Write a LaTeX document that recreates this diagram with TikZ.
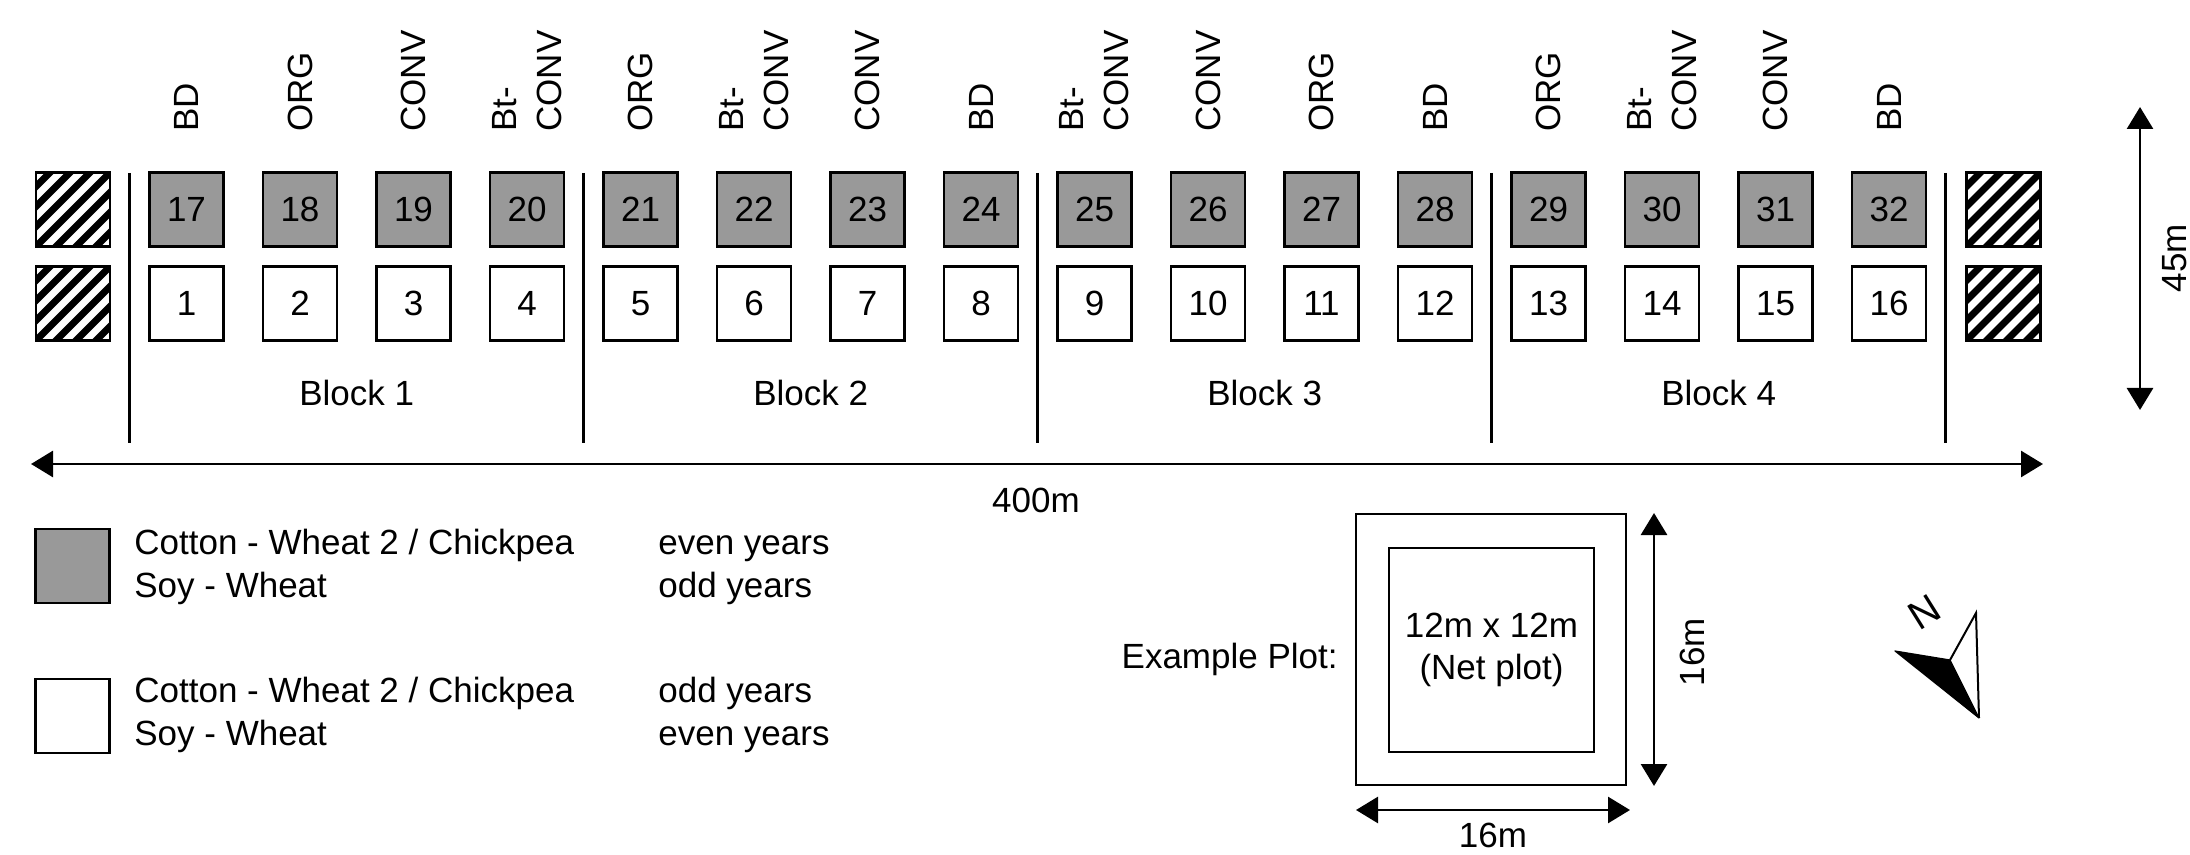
\documentclass[tikz,border=0pt]{standalone}
\usepackage{fontspec}
\setmainfont{Liberation Sans}
\usetikzlibrary{arrows.meta}
\definecolor{plotgray}{RGB}{153,153,153}
\begin{document}
\begin{tikzpicture}[x=0.5pt,y=-0.5pt,
  font=\fontsize{17.5}{21}\selectfont,
  plot/.style={draw, line width=1.3pt, minimum width=37pt, minimum height=37pt, inner sep=0pt},
  evenplot/.style={plot, fill=plotgray},
  oddplot/.style={plot, fill=white},
  hatchbox/.style={plot, fill=white, path picture={
    \foreach \k in {-5,...,5}{
      \draw[line width=3.5pt] ([xshift=\k*10pt]path picture bounding box.center) +(-30pt,-30pt) -- +(30pt,30pt);
    }}},
  sepline/.style={line width=1.3pt},
  dimline/.style={line width=1.4pt, {Triangle[length=11pt,width=13pt]}-{Triangle[length=11pt,width=13pt]}},
  trt/.style={rotate=90, anchor=west, inner sep=0pt, align=left, font=\fontsize{17.5}{22.5}\selectfont},
  txt/.style={anchor=base west, inner sep=0pt}
]
\useasboundingbox (0,0) rectangle (2190,855);

% plots and treatment labels
\foreach \lab [count=\i from 0] in {BD,ORG,CONV,{Bt-\\CONV},ORG,{Bt-\\CONV},CONV,BD,{Bt-\\CONV},CONV,ORG,BD,ORG,{Bt-\\CONV},CONV,BD}{
  \pgfmathsetmacro\xx{186.5+113.5*\i}
  \pgfmathtruncatemacro\tn{17+\i}
  \pgfmathtruncatemacro\bn{1+\i}
  \node[evenplot] (p\tn) at (\xx,209.5) {\tn};
  \node[oddplot] (p\bn) at (\xx,303.5) {\bn};
  \node[trt] (t\tn) at (\xx,132) {\lab};
}

% border (hatched) plots
\node[hatchbox] (hL1) at (73,209.5) {};
\node[hatchbox] (hL2) at (73,303.5) {};
\node[hatchbox] (hR1) at (2003.5,209.5) {};
\node[hatchbox] (hR2) at (2003.5,303.5) {};

% block separators and labels
\foreach \k in {0,...,4}{
  \draw[sepline] ({129.75+454*\k},173) -- ({129.75+454*\k},443);
}
\foreach \k in {1,...,4}{
  \node (blk\k) at ({356.75+454*(\k-1)},393) {Block \k};
}

% 400m dimension
\coordinate (w1) at (31,464);
\coordinate (w2) at (2043,464);
\draw[dimline] (w1) -- (w2);
\node (w400) at (1036,500) {400m};

% 45m dimension
\coordinate (v1) at (2140,107);
\coordinate (v2) at (2140,410);
\draw[dimline] (v1) -- (v2);
\node[rotate=90, inner sep=0pt] (v45) at (2175,258) {45m};

% legend
\node[evenplot] (leg1) at (72.5,566) {};
\node[oddplot] (leg2) at (72.5,716) {};
\node[txt] (l1a) at (134,554) {Cotton - Wheat 2 / Chickpea};
\node[txt] (l1b) at (134,597) {Soy - Wheat};
\node[txt] (l1c) at (658,554) {even years};
\node[txt] (l1d) at (658,597) {odd years};
\node[txt] (l2a) at (134,702) {Cotton - Wheat 2 / Chickpea};
\node[txt] (l2b) at (134,745) {Soy - Wheat};
\node[txt] (l2c) at (658,702) {odd years};
\node[txt] (l2d) at (658,745) {even years};

% example plot
\node[draw, line width=1.3pt, minimum width=135pt, minimum height=135.5pt] (outer) at (1491,649.5) {};
\node[draw, line width=1.3pt, minimum width=102.5pt, minimum height=102pt, align=center] (inner) at (1491.5,650) {12m x 12m\\(Net plot)};
\node[anchor=base east, inner sep=0pt] (ex) at (1338,668) {Example Plot:};
\coordinate (e1) at (1654,513);
\coordinate (e2) at (1654,786);
\draw[dimline] (e1) -- (e2);
\node[rotate=90] (e16) at (1692,652) {16m};
\coordinate (f1) at (1356,810);
\coordinate (f2) at (1630,810);
\draw[dimline] (f1) -- (f2);
\node[anchor=base, inner sep=0pt] (f16) at (1493,847) {16m};

% north arrow
\coordinate (nL) at (1895,651);
\coordinate (nJ) at (1950,660);
\coordinate (nB) at (1979,718);
\coordinate (nT) at (1976,613);
\filldraw[line width=0.6pt, line join=round] (nL) -- (nJ) -- (nB) -- cycle;
\draw[line width=1pt, line join=miter] (nJ) -- (nT) -- (nB);
\node[rotate=32, font=\fontsize{20}{24}\selectfont] (north) at (1924,612) {N};
\end{tikzpicture}
\end{document}
